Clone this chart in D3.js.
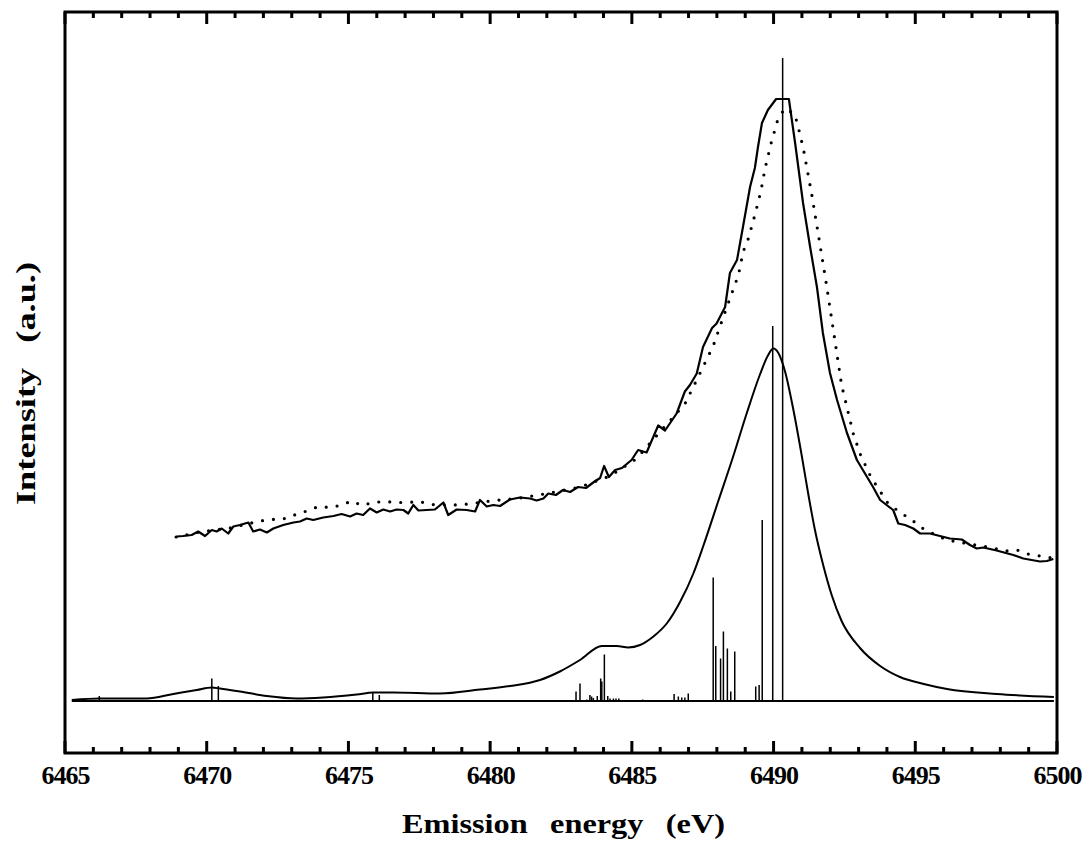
<!DOCTYPE html>
<html>
<head>
<meta charset="utf-8">
<script src="https://cdn.jsdelivr.net/npm/d3@7"></script>
<style>
  body { margin: 0; background: #fff; }
  svg text { font-family: "Liberation Serif", "Times New Roman", serif; font-weight: bold; fill: #000; }
</style>
</head>
<body>
<script>
// tick labels on the energy axis
var tickLabels = [6465, 6470, 6475, 6480, 6485, 6490, 6495, 6500];
// unlabelled ticks, one per eV
var minorTicks = [6466, 6467, 6468, 6469, 6471, 6472, 6473, 6474, 6476, 6477, 6478, 6479, 6481, 6482, 6483, 6484, 6486, 6487, 6488, 6489, 6491, 6492, 6493, 6494, 6496, 6497, 6498, 6499];

// measured spectrum, solid line
var solidE = [6468.94,6469.17,6469.47,6469.70,6469.94,6470.18,6470.35,6470.53,6470.76,6470.94,6471.17,6471.47,6471.64,6471.88,6472.12,6472.35,6472.70,6473.06,6473.29,6473.53,6473.76,6474.11,6474.47,6474.76,6475.06,6475.29,6475.52,6475.76,6476.00,6476.23,6476.47,6476.70,6476.94,6477.11,6477.29,6477.47,6477.76,6478.05,6478.35,6478.52,6478.82,6479.17,6479.47,6479.64,6479.88,6480.11,6480.35,6480.70,6481.05,6481.41,6481.64,6481.88,6482.05,6482.32,6482.57,6482.82,6483.10,6483.38,6483.66,6483.88,6484.02,6484.19,6484.41,6484.65,6484.99,6485.22,6485.52,6485.93,6486.17,6486.58,6486.87,6487.05,6487.29,6487.51,6487.83,6487.99,6488.29,6488.46,6488.71,6488.92,6489.17,6489.34,6489.45,6489.59,6489.80,6490.09,6490.54,6490.76,6491.04,6491.29,6491.53,6491.74,6491.99,6492.24,6492.59,6492.94,6493.51,6493.76,6494.22,6494.40,6494.64,6494.93,6495.17,6495.52,6495.87,6496.22,6496.64,6496.93,6497.17,6497.40,6497.87,6498.46,6498.81,6499.40,6499.64,6499.87];
var solidI = [32.9,33.0,33.2,33.9,33.0,34.2,33.9,34.5,33.5,34.9,35.2,35.7,33.9,34.3,33.7,34.5,35.2,35.7,35.9,36.5,36.2,36.7,37.0,37.4,36.9,37.5,37.2,38.5,37.7,38.3,37.9,38.3,38.2,37.5,39.2,38.1,38.2,38.3,39.7,37.2,38.3,38.2,37.9,40.2,38.9,39.2,39.0,40.3,40.7,40.5,40.1,40.5,41.5,41.2,42.2,41.8,42.8,42.6,43.8,44.6,47.0,44.8,46.2,46.6,48.2,50.2,49.7,55.1,54.1,57.5,61.9,63.2,65.5,70.8,74.6,75.5,78.8,85.6,88.2,94.8,102.8,106.6,110.8,115.6,118.2,120.4,120.4,111.6,99.6,90.8,82.8,73.6,65.6,60.2,53.6,48.2,42.8,40.2,38.2,35.5,35.2,34.5,33.5,33.5,33.0,32.5,32.3,31.2,30.5,30.7,30.1,29.2,28.5,27.9,28.0,28.4];

// second spectrum, dotted line
var dotE = [6468.92,6469.76,6470.82,6471.88,6472.29,6472.70,6473.15,6473.58,6473.94,6474.35,6474.70,6475.12,6475.47,6475.86,6476.27,6476.70,6477.11,6477.50,6477.91,6478.94,6480.00,6481.05,6482.11,6483.17,6484.23,6485.15,6485.88,6486.87,6487.46,6487.87,6488.17,6488.46,6488.76,6488.93,6489.11,6489.34,6489.55,6489.70,6489.91,6490.13,6490.38,6490.73,6490.84,6491.05,6491.35,6491.64,6491.84,6492.09,6492.40,6492.60,6492.81,6493.07,6493.46,6493.70,6494.00,6494.39,6494.88,6495.24,6495.59,6496.12,6496.51,6497.74,6498.17,6498.59,6498.98,6499.40,6499.82];
var dotI = [32.8,33.8,34.6,36.0,36.3,36.4,37.3,38.1,38.9,38.7,39.1,40.0,39.1,39.7,39.9,39.7,39.7,39.9,39.3,39.2,40.0,40.6,41.6,42.8,45.0,48.4,53.1,59.4,66.2,71.0,75.9,80.5,85.2,89.9,92.5,97.2,101.9,106.5,111.5,115.9,118.5,117.5,115.5,110.5,101.2,91.2,84.2,74.9,63.2,58.5,53.5,49.2,44.5,42.5,39.8,38.0,36.2,34.6,33.6,32.2,31.8,30.6,30.0,30.2,29.4,29.0,28.6];

// calculated envelope
var calcE = [6465.24,6466.23,6467.88,6468.82,6469.65,6470.18,6470.47,6471.17,6472.12,6473.17,6474.11,6475.29,6475.88,6476.58,6478.23,6479.64,6480.70,6481.76,6482.46,6483.17,6483.94,6484.47,6484.87,6485.29,6485.76,6486.23,6486.70,6487.17,6487.52,6488.05,6488.58,6489.05,6489.52,6489.81,6489.99,6490.17,6490.40,6490.70,6490.99,6491.23,6491.46,6491.75,6492.05,6492.40,6493.05,6493.76,6494.46,6495.30,6496.12,6497.88,6499.89];
var calcI = [0.2,0.5,0.5,1.4,2.2,2.7,2.5,1.9,1.0,0.5,0.7,1.3,1.7,1.7,1.5,2.3,3.0,4.2,5.9,8.2,11.0,11.0,10.7,11.2,12.9,15.5,19.8,25.5,31.0,40.0,49.0,57.5,65.3,69.2,70.5,69.6,66.0,58.2,49.2,41.2,34.2,27.2,21.2,16.0,10.6,7.0,4.8,3.4,2.4,1.4,0.8];

// calculated line positions and strengths (sticks)
var stickE = [6466.21,6470.18,6470.41,6475.86,6476.09,6483.03,6483.17,6483.41,6483.52,6483.58,6483.64,6483.78,6483.90,6483.94,6484.03,6484.15,6484.23,6484.35,6484.44,6484.54,6485.38,6486.49,6486.64,6486.76,6486.87,6486.99,6487.87,6487.96,6488.13,6488.23,6488.37,6488.49,6488.63,6489.37,6489.49,6489.60,6489.97,6490.32];
var stickI = [1.0,4.5,3.0,1.7,1.2,1.9,3.5,0.3,1.2,0.9,0.6,1.0,4.5,3.9,9.3,1.0,0.5,0.5,0.5,0.5,0.3,1.4,0.9,0.7,0.7,1.5,24.7,11.0,8.5,13.9,10.5,1.9,9.9,2.9,3.2,36.2,75.0,128.6];

var margin = {top: 12, right: 26, bottom: 89, left: 65},
    width = 1083 - margin.left - margin.right,
    height = 842 - margin.top - margin.bottom;

var root = d3.select("body").append("svg")
    .attr("width", 1083)
    .attr("height", 842);
var svg = root.append("g")
    .attr("transform", "translate(" + margin.left + "," + margin.top + ")");

var x = d3.scaleLinear().domain([6465, 6500]).range([0, width]);
var y = d3.scaleLinear().domain([-10.4, 137.8]).range([height, 0]);

function pairs(a, b) {
  return a.map(function(d, i) { return [d, b[i]]; });
}

var line = d3.line()
  .x(function(d) { return x(d[0]); })
  .y(function(d) { return y(d[1]); });

// baseline of the stick spectrum
svg.append("path")
  .datum([[calcE[0], 0], [calcE[calcE.length - 1], 0]])
  .attr("d", line)
  .attr("fill", "none").attr("stroke", "#000").attr("stroke-width", 2);

// sticks
svg.append("g").selectAll("line")
  .data(pairs(stickE, stickI))
  .enter().append("line")
  .attr("x1", function(d) { return x(d[0]); })
  .attr("x2", function(d) { return x(d[0]); })
  .attr("y1", y(0))
  .attr("y2", function(d) { return y(d[1]); })
  .attr("stroke", "#000")
  .attr("stroke-width", 1.5);

// calculated envelope
svg.append("path")
  .datum(pairs(calcE, calcI))
  .attr("d", line.curve(d3.curveMonotoneX))
  .attr("fill", "none").attr("stroke", "#000").attr("stroke-width", 2);

line.curve(d3.curveLinear);

// dotted spectrum
svg.append("path")
  .datum(pairs(dotE, dotI))
  .attr("d", line)
  .attr("fill", "none").attr("stroke", "#000")
  .attr("stroke-width", 3.2)
  .attr("stroke-linecap", "round")
  .attr("stroke-dasharray", "0,11");

// solid spectrum
svg.append("path")
  .datum(pairs(solidE, solidI))
  .attr("d", line)
  .attr("fill", "none").attr("stroke", "#000").attr("stroke-width", 2.2)
  .attr("stroke-linejoin", "round");

// frame
svg.append("rect")
  .attr("x", 0).attr("y", 0)
  .attr("width", width).attr("height", height)
  .attr("fill", "none")
  .attr("stroke", "#000")
  .attr("stroke-width", 3);

// inward ticks on top and bottom edges
function drawTicks(values, len) {
  var g = svg.append("g");
  g.selectAll(".tb").data(values).enter().append("line")
    .attr("class", "tb")
    .attr("x1", function(d) { return x(d); })
    .attr("x2", function(d) { return x(d); })
    .attr("y1", height)
    .attr("y2", height - len)
    .style("stroke", "#000")
    .style("stroke-width", "3px");
  g.selectAll(".tt").data(values).enter().append("line")
    .attr("class", "tt")
    .attr("x1", function(d) { return x(d); })
    .attr("x2", function(d) { return x(d); })
    .attr("y1", 0)
    .attr("y2", len)
    .style("stroke", "#000")
    .style("stroke-width", "3px");
}
drawTicks(minorTicks, 6);
drawTicks(tickLabels, 12);

var xAxis = svg.append("g")
  .attr("class", "x-axis")
  .attr("transform", "translate(0," + height + ")")
  .call(d3.axisBottom(x).tickValues(tickLabels).tickSize(0).tickPadding(13).tickFormat(d3.format("d")));
xAxis.select(".domain").remove();
xAxis.selectAll("text").style("font-size", "26px").style("letter-spacing", "-1px");

// axis titles
svg.append("text")
  .attr("x", 337)
  .attr("y", 833 - margin.top)
  .attr("textLength", 323)
  .attr("lengthAdjust", "spacingAndGlyphs")
  .style("font-size", "27px")
  .style("word-spacing", "12px")
  .text("Emission energy (eV)");

svg.append("text")
  .attr("transform", "translate(" + (35 - margin.left) + "," + (505 - margin.top) + ") rotate(-90)")
  .attr("textLength", 243)
  .attr("lengthAdjust", "spacingAndGlyphs")
  .style("font-size", "27px")
  .style("word-spacing", "12px")
  .text("Intensity (a.u.)");
</script>
</body>
</html>
